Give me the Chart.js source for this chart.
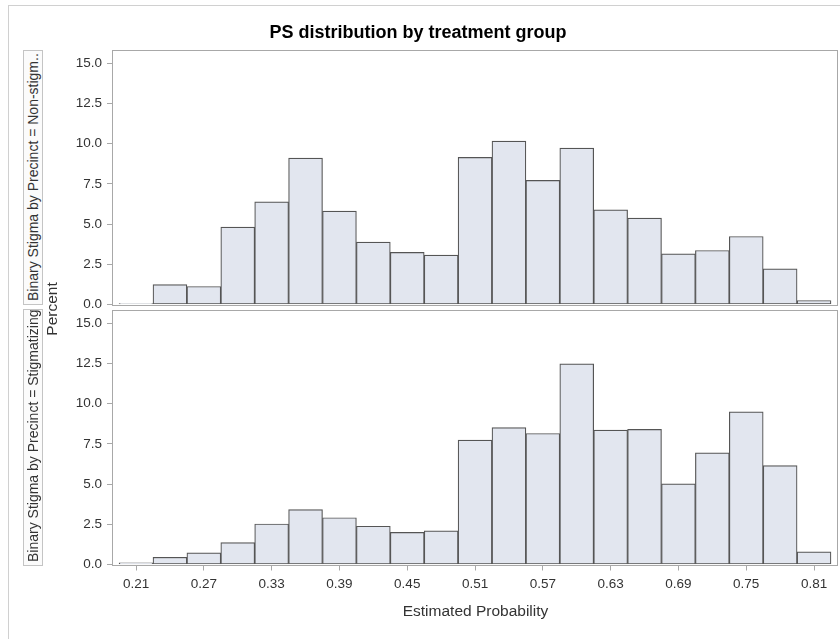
<!DOCTYPE html>
<html>
<head>
<meta charset="utf-8">
<script src="https://cdn.jsdelivr.net/npm/chart.js@4"></script>
<style>
  html, body { margin:0; padding:0; background:#fff; }
  #wrap { position:relative; width:840px; height:639px; overflow:hidden; font-family:"Liberation Sans", Arial, sans-serif; color:#333; }
  canvas { position:absolute; left:0; top:0; }
  #outer { position:absolute; left:8px; top:5px; width:900px; height:700px; border-left:1px solid #d0d0d0; border-top:1px solid #d0d0d0; }
  #title { position:absolute; left:0px; width:836px; top:22px; text-align:center; font-weight:bold; font-size:18px; color:#000; }
  .strip { position:absolute; height:20px; border:1px solid #c4c4c4; background:#fbfbfb; transform-origin: top left; transform: rotate(-90deg);
           font-size:14px; line-height:18px; white-space:nowrap; overflow:hidden; padding-left:3px; box-sizing:border-box; color:#333; }
  #percent { position:absolute; font-size:15.5px; white-space:nowrap; transform: translate(-50%,-50%) rotate(-90deg); color:#333; }
</style>
</head>
<body>
<div id="wrap">
  <div id="outer"></div>
  <canvas id="cTop" width="840" height="639"></canvas>
  <canvas id="cBot" width="840" height="639"></canvas>
  <div id="title">PS distribution by treatment group</div>
  <div class="strip" style="left:23px; top:305px; width:255px;">Binary Stigma by Precinct = Non-stigm..</div>
  <div class="strip" style="left:23px; top:566px; width:257px;">Binary Stigma by Precinct = Stigmatizing</div>
  <div id="percent" style="left:52px; top:309px;">Percent</div>
</div>
<script>
// Bin midpoints (Estimated Probability)
const bins = [0.21,0.24,0.27,0.30,0.33,0.36,0.39,0.42,0.45,0.48,0.51,0.54,0.57,0.60,0.63,0.66,0.69,0.72,0.75,0.78,0.81];
// Percent, Binary Stigma by Precinct = Non-stigmatizing
const nonStigma = [0.05,1.24,1.12,4.81,6.39,9.10,5.81,3.88,3.24,3.07,9.15,10.16,7.72,9.73,5.89,5.37,3.15,3.36,4.23,2.22,0.25];
// Percent, Binary Stigma by Precinct = Stigmatizing
const stigma = [0.10,0.45,0.72,1.36,2.52,3.41,2.91,2.38,2.00,2.09,7.74,8.52,8.15,12.48,8.36,8.40,5.01,6.95,9.50,6.15,0.79];
// Tick labels
const xTicks = [0.21,0.27,0.33,0.39,0.45,0.51,0.57,0.63,0.69,0.75,0.81];
const yTicks = [0,2.5,5,7.5,10,12.5,15];

Chart.defaults.font.family = '"Liberation Sans", Arial, sans-serif';
Chart.defaults.color = '#333';

const frame = {
  id: 'frame',
  afterDatasetsDraw(chart) {
    const a = chart.chartArea, ctx = chart.ctx;
    ctx.save();
    ctx.strokeStyle = '#a8a8a8';
    ctx.lineWidth = 1;
    ctx.strokeRect(Math.round(a.left) - 0.5, Math.round(a.top) + 0.5, Math.round(a.right - a.left), Math.round(a.bottom - a.top));
    ctx.restore();
  }
};

function makeChart(id, values, isBottom) {
  const pts = bins.map((b, i) => ({ x: b, y: values[i] }));
  const padTop = isBottom ? 310 : 50;
  const padBottom = isBottom ? (639 - 564.5 - 62) : (639 - 304.5);
  return new Chart(document.getElementById(id), {
    type: 'bar',
    data: { datasets: [{
      data: pts,
      backgroundColor: '#E2E6EF',
      borderColor: '#555555',
      borderWidth: 1.2,
      borderSkipped: false,
      barPercentage: 1,
      categoryPercentage: 1
    }]},
    options: {
      responsive: false,
      animation: false,
      devicePixelRatio: 1,
      layout: { padding: { left: 60, right: 2, top: padTop, bottom: padBottom } },
      plugins: { legend: { display: false }, tooltip: { enabled: false }, title: { display: false } },
      scales: {
        x: {
          type: 'linear',
          offset: false,
          min: 0.1896, max: 0.8312,
          display: isBottom,
          afterBuildTicks: s => { s.ticks = xTicks.map(v => ({ value: v })); },
          afterFit: s => { if (isBottom) s.height = 62; },
          ticks: { callback: v => v.toFixed(2), font: { size: 13.5 }, padding: 6, maxRotation: 0, autoSkip: false },
          grid: { drawOnChartArea: false, offset: false, tickLength: 6, color: '#a8a8a8' },
          border: { display: false },
          title: { display: true, text: 'Estimated Probability', font: { size: 15.5 }, padding: { top: 4, bottom: 5 } }
        },
        y: {
          min: 0, max: 15.83,
          afterBuildTicks: s => { s.ticks = yTicks.map(v => ({ value: v })); },
          afterFit: s => { s.width = 53; },
          ticks: { callback: v => v.toFixed(1), font: { size: 13.5 }, padding: 5 },
          grid: { drawOnChartArea: false, tickLength: 6, color: '#a8a8a8' },
          border: { display: false }
        }
      }
    },
    plugins: [frame]
  });
}

makeChart('cTop', nonStigma, false);
makeChart('cBot', stigma, true);
</script>
</body>
</html>
